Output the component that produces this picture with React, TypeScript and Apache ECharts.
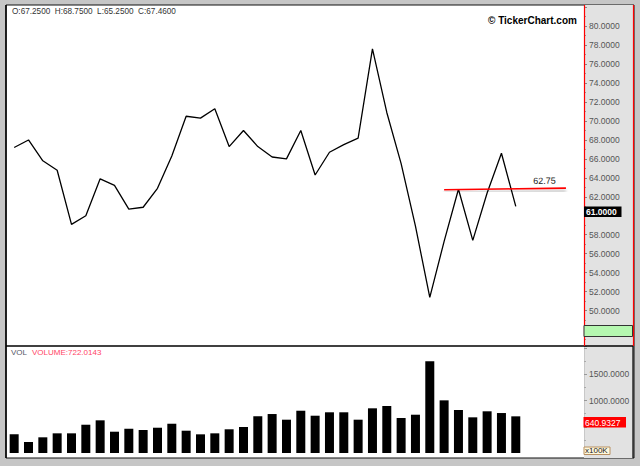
import React, { useEffect, useRef } from "react";
import * as echarts from "echarts";

const prices = [
  67.2, 68.0, 65.8, 64.8, 59.1, 60.0, 63.9, 63.2, 60.7, 60.9, 62.9, 66.3,
  70.5, 70.3, 71.3, 67.3, 69.0, 67.3, 66.2, 66.0, 69.0, 64.3, 66.7, 67.5,
  68.2, 77.6, 70.9, 65.5, 58.9, 51.4, 57.3, 62.8, 57.4, 62.4, 66.6, 61.0,
];
const volumes = [
  356, 210, 299, 375, 375, 539, 623, 406, 463, 438, 482, 558,
  425, 356, 375, 452, 496, 699, 743, 635, 806, 711, 776, 776,
  635, 852, 896, 667, 730, 1748, 1004, 820, 680, 795, 762, 699,
];
const trendStart = [30.0, 62.75];
const trendEnd = [38.5, 62.92];
const trendLabel = "62.75";
const headerText = "O:67.2500  H:68.7500  L:65.2500  C:67.4600";
const lastPriceLabel = "61.0000";
const lastVolumeLabel = "640.9327";
const volumeTitle = "VOLUME:722.0143";

export default function App() {
  const ref = useRef<HTMLDivElement>(null);
  useEffect(() => {
    document.body.style.margin = "0";
    const chart = echarts.init(ref.current!, null, { renderer: "svg" });
    const font = "Liberation Sans, Arial, sans-serif";
    const priceData = prices.map((v, i) => [i, v]);
    const volData = volumes.map((v, i) => [i, v]);
    chart.setOption({
      animation: false,
      backgroundColor: "#c6c6c6",
      graphic: [
        { type: "rect", shape: { x: 6, y: 5, width: 628, height: 453 }, style: { fill: "#fff", stroke: "#111", lineWidth: 1 }, z: -10 },
        { type: "rect", shape: { x: 584, y: 5, width: 49, height: 453 }, style: { fill: "#e2e2e2" }, z: -9 },
        { type: "line", shape: { x1: 6, y1: 346, x2: 633, y2: 346 }, style: { stroke: "#000", lineWidth: 1.5 }, z: 5 },
        { type: "line", shape: { x1: 633, y1: 346, x2: 633, y2: 458 }, style: { stroke: "#000", lineWidth: 1.2 }, z: 5 },
        { type: "line", shape: { x1: 6, y1: 5, x2: 6, y2: 458 }, style: { stroke: "#000", lineWidth: 1.5 }, z: 5 },
        { type: "line", shape: { x1: 633.5, y1: 5, x2: 633.5, y2: 346 }, style: { stroke: "#ff0000", lineWidth: 1.2 }, z: 5 },
        { type: "line", shape: { x1: 584.5, y1: 5, x2: 584.5, y2: 346 }, style: { stroke: "#ff0000", lineWidth: 1.2 }, z: 5 },
        { type: "rect", shape: { x: 584, y: 325.5, width: 48.5, height: 11 }, style: { fill: "#b5f7b0", stroke: "#333", lineWidth: 1 }, z: 6 },
        { type: "text", x: 12, y: 7, style: { text: headerText, font: `8.2px ${font}`, fill: "#333" }, z: 6 },
        { type: "text", x: 488, y: 15, style: { text: "© TickerChart.com", font: `bold 10px ${font}`, fill: "#000" }, z: 6 },
        { type: "rect", shape: { x: 584, y: 206.5, width: 37.5, height: 10.5 }, style: { fill: "#000" }, z: 7 },
        { type: "text", x: 586, y: 207.5, style: { text: lastPriceLabel, font: `bold 8.5px ${font}`, fill: "#fff" }, z: 8 },
        { type: "text", x: 11, y: 348, style: { text: "VOL", font: `8px ${font}`, fill: "#556" }, z: 6 },
        { type: "text", x: 32, y: 348, style: { text: volumeTitle, font: `8px ${font}`, fill: "#ff4466" }, z: 6 },
        { type: "rect", shape: { x: 583.5, y: 417, width: 42.5, height: 10.5 }, style: { fill: "#ff0000" }, z: 7 },
        { type: "text", x: 585, y: 418, style: { text: lastVolumeLabel, font: `8.5px ${font}`, fill: "#fff" }, z: 8 },
        { type: "rect", shape: { x: 584, y: 447, width: 26, height: 7.5 }, style: { fill: "#fff8dc", stroke: "#b89060", lineWidth: 1 }, z: 7 },
        { type: "text", x: 585, y: 446.8, style: { text: "x100K", font: `8px ${font}`, fill: "#222" }, z: 8 },
      ],
      grid: [
        { left: 7, right: 56, top: 7.24, height: 341.26 },
        { left: 7, right: 56, top: 346, height: 107 },
      ],
      xAxis: [
        { type: "value", gridIndex: 0, min: -0.5, max: 39.76, show: false },
        { type: "value", gridIndex: 1, min: -0.5, max: 39.76, show: false },
      ],
      yAxis: [
        {
          type: "value", gridIndex: 0, position: "right", min: 46, max: 82, interval: 2,
          axisLine: { show: false, onZero: false },
          axisTick: { show: true, length: 3, lineStyle: { color: "#888" } },
          minorTick: { show: true, splitNumber: 2, length: 2, lineStyle: { color: "#999" } },
          splitLine: { show: false },
          axisLabel: {
            margin: 5, color: "#555", fontSize: 8.5, fontFamily: font,
            formatter: (v: number) => (v >= 50 && v <= 80 && v !== 60 ? v.toFixed(4) : ""),
          },
        },
        {
          type: "value", gridIndex: 1, position: "right", min: 0, max: 2040, interval: 500,
          axisLine: { show: true, onZero: false, lineStyle: { color: "#c8c8c8" } },
          axisTick: { show: true, length: 3, lineStyle: { color: "#999" } },
          minorTick: { show: true, splitNumber: 2, length: 2, lineStyle: { color: "#aaa" } },
          splitLine: { show: false },
          axisLabel: {
            margin: 5, color: "#555", fontSize: 8.5, fontFamily: font,
            formatter: (v: number) => (v === 1000 || v === 1500 ? v.toFixed(4) : ""),
          },
        },
      ],
      series: [
        {
          type: "line", xAxisIndex: 0, yAxisIndex: 0, data: priceData, symbol: "none",
          lineStyle: { color: "#000", width: 1.3 },
          markLine: {
            silent: true, symbol: "none",
            lineStyle: { color: "#ff0000", width: 1.6, type: "solid", shadowColor: "rgba(0,0,0,0.35)", shadowBlur: 3, shadowOffsetY: 3 },
            label: { show: true, position: "insideEndTop", formatter: trendLabel, color: "#222", fontSize: 9, fontFamily: font, distance: [10, 3] },
            data: [[{ coord: trendStart }, { coord: trendEnd }]],
          },
        },
        {
          type: "bar", xAxisIndex: 1, yAxisIndex: 1, data: volData, barWidth: 9,
          itemStyle: { color: "#000" },
        },
      ],
    });
    return () => chart.dispose();
  }, []);
  return <div ref={ref} style={{ width: 640, height: 466 }} />;
}
